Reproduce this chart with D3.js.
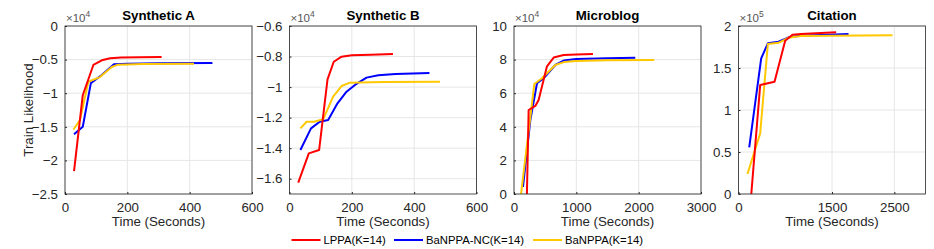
<!DOCTYPE html>
<html><head><meta charset="utf-8">
<script src="https://cdn.jsdelivr.net/npm/d3@7"></script>
<style>body{margin:0;background:#fff}svg text{font-family:"Liberation Sans",Arial,sans-serif}</style>
</head><body><svg id="c" width="934" height="249"></svg>
<script>
// ---------- data (x: seconds, y: value / exponent) ----------
const seriesNames = ["LPPA(K=14)", "BaNPPA-NC(K=14)", "BaNPPA(K=14)"];
const titles = ["Synthetic A", "Synthetic B", "Microblog", "Citation"];
const exponents = ["4", "4", "4", "5"];

const synA_LPPA = [[29,-2.16],[57,-1.03],[91,-0.58],[118,-0.51],[145,-0.48],[180,-0.47],[240,-0.465],[310,-0.46]];
const synA_NC   = [[29,-1.61],[57,-1.50],[83,-0.85],[118,-0.73],[157,-0.57],[200,-0.56],[300,-0.555],[473,-0.55]];
const synA_Ba   = [[27,-1.54],[48,-1.40],[75,-0.83],[112,-0.76],[150,-0.61],[170,-0.575],[250,-0.565],[414,-0.56]];

const synB_LPPA = [[28,-1.626],[62,-1.434],[95,-1.412],[122,-0.949],[142,-0.834],[167,-0.801],[200,-0.792],[260,-0.788],[332,-0.783]];
const synB_NC   = [[35,-1.412],[69,-1.27],[97,-1.227],[124,-1.216],[154,-1.106],[183,-1.03],[210,-0.986],[247,-0.938],[285,-0.923],[340,-0.915],[449,-0.908]];
const synB_Ba   = [[35,-1.27],[55,-1.227],[79,-1.227],[108,-1.211],[140,-1.063],[167,-0.993],[194,-0.971],[300,-0.967],[483,-0.965]];

const micro_LPPA = [[206,-0.2],[235,5.0],[342,5.24],[395,5.6],[529,7.6],[636,8.12],[797,8.27],[1000,8.31],[1267,8.33]];
const micro_NC   = [[144,0.43],[262,4.4],[369,6.59],[475,6.89],[663,7.68],[797,7.94],[1000,8.03],[1500,8.08],[1946,8.11]];
const micro_Ba   = [[110,-0.1],[326,6.55],[449,6.89],[663,7.68],[800,7.85],[1000,7.92],[1500,7.96],[2251,7.98]];

const cit_LPPA = [[203,-0.02],[348,1.298],[578,1.337],[749,1.825],[866,1.895],[1000,1.905],[1567,1.925]];
const cit_NC   = [[172,0.556],[364,1.615],[471,1.794],[642,1.813],[803,1.865],[1000,1.885],[1765,1.905]];
const cit_Ba   = [[144,0.238],[348,0.722],[471,1.786],[642,1.80],[803,1.86],[1000,1.88],[2471,1.889]];

const xDomains = [[0,600],[0,600],[0,3000],[0,3000]];
const yDomains = [[-2.5,0],[-1.7,-0.6],[0,10],[0,2]];
const xTicks = [[0,200,400,600],[0,200,400,600],[0,1000,2000,3000],[0,1500,2500]];
const yTicks = [[-2.5,-2,-1.5,-1,-0.5,0],[-1.6,-1.4,-1.2,-1,-0.8,-0.6],[0,2,4,6,8,10],[0,0.5,1,1.5,2]];
const panelData = [
  [synA_LPPA, synA_NC, synA_Ba],
  [synB_LPPA, synB_NC, synB_Ba],
  [micro_LPPA, micro_NC, micro_Ba],
  [cit_LPPA, cit_NC, cit_Ba]
];

// ---------- drawing ----------
const colors = ["#ff0000", "#0000ff", "#ffc800"];
const svg = d3.select("#c");
const lefts = [65, 289.5, 514, 738.5];
const W = 187, pTop = 26, pBottom = 194;
const axisCol = "#262626";
const fs = 13.3;

panelData.forEach((series, i) => {
  const x = d3.scaleLinear().domain(xDomains[i]).range([lefts[i], lefts[i] + W]);
  const y = d3.scaleLinear().domain(yDomains[i]).range([pBottom, pTop]);
  const g = svg.append("g");

  // grid
  g.selectAll(".gx").data(xTicks[i]).join("line")
    .attr("x1", d => x(d)).attr("x2", d => x(d)).attr("y1", pTop).attr("y2", pBottom)
    .attr("stroke", "#e6e6e6").attr("stroke-width", 1);
  g.selectAll(".gy").data(yTicks[i]).join("line")
    .attr("x1", lefts[i]).attr("x2", lefts[i] + W).attr("y1", d => y(d)).attr("y2", d => y(d))
    .attr("stroke", "#e6e6e6").attr("stroke-width", 1);

  // clip
  const cid = "clip" + i;
  svg.append("clipPath").attr("id", cid).append("rect")
    .attr("x", lefts[i]).attr("y", pTop).attr("width", W).attr("height", pBottom - pTop);

  const line = d3.line().x(d => x(d[0])).y(d => y(d[1]));
  [1, 2, 0].forEach(k => {
    g.append("path").datum(series[k]).attr("d", line)
      .attr("fill", "none").attr("stroke", colors[k]).attr("stroke-width", 2)
      .attr("stroke-linejoin", "round").attr("clip-path", `url(#${cid})`);
  });

  // box
  g.append("rect").attr("x", lefts[i]).attr("y", pTop).attr("width", W).attr("height", pBottom - pTop)
    .attr("fill", "none").attr("stroke", axisCol).attr("stroke-width", 0.8);

  // axes (ticks inward)
  const xa = d3.axisBottom(x).tickValues(xTicks[i]).tickSizeInner(-2).tickSizeOuter(0).tickPadding(9).tickFormat(d3.format("~g"));
  const gx = g.append("g").attr("transform", `translate(0,${pBottom})`).call(xa);
  const ya = d3.axisLeft(y).tickValues(yTicks[i]).tickSizeInner(-2).tickSizeOuter(0).tickPadding(7).tickFormat(d3.format("~g"));
  const gy = g.append("g").attr("transform", `translate(${lefts[i]},0)`).call(ya);
  [gx, gy].forEach(a => {
    a.select(".domain").remove();
    a.selectAll("line").attr("stroke", axisCol);
    a.selectAll("text").attr("fill", axisCol).attr("font-size", fs)
      .style("font-family", '"Liberation Sans",Arial,sans-serif');
  });

  // title
  g.append("text").attr("x", lefts[i] + W / 2).attr("y", 20).attr("text-anchor", "middle")
    .attr("font-size", fs).attr("font-weight", "bold").attr("fill", "#000").text(titles[i]);
  // exponent
  const ex = g.append("text").attr("x", lefts[i] + 1).attr("y", 22).attr("font-size", 11.5).attr("fill", "#555");
  ex.append("tspan").text("×10");
  ex.append("tspan").attr("dy", -5).attr("font-size", 8.5).text(exponents[i]);
  // x label
  g.append("text").attr("x", lefts[i] + W / 2).attr("y", 226).attr("text-anchor", "middle")
    .attr("font-size", fs).attr("fill", axisCol).text("Time (Seconds)");
});

// y label
svg.append("text").attr("transform", "translate(33,110) rotate(-90)").attr("text-anchor", "middle")
  .attr("font-size", fs).attr("fill", axisCol).text("Train Likelihood");

// legend
const legX = [291.5, 394, 533];
seriesNames.forEach((n, k) => {
  svg.append("line").attr("x1", legX[k]).attr("x2", legX[k] + 29).attr("y1", 240).attr("y2", 240)
    .attr("stroke", colors[k]).attr("stroke-width", 2);
  svg.append("text").attr("x", legX[k] + 32).attr("y", 244).attr("font-size", 11.3).attr("fill", "#000").text(n);
});
</script></body></html>
